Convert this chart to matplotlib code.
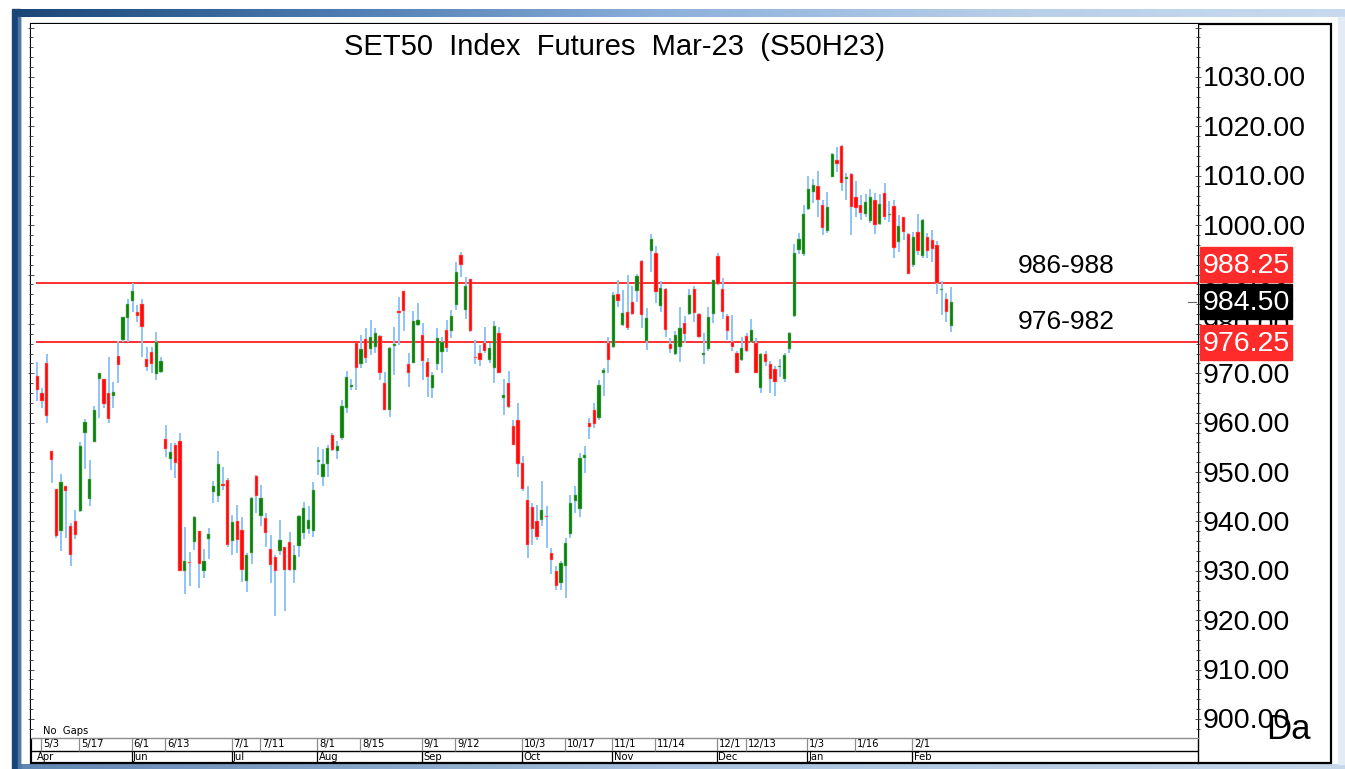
import matplotlib
matplotlib.use('Agg')
import matplotlib.pyplot as plt
import numpy as np
from matplotlib import font_manager as fm
from matplotlib.patches import Rectangle
from matplotlib.ticker import MultipleLocator
from matplotlib.colors import LinearSegmentedColormap

# ---------------- data ----------------
opens = [969.5, 966.0, 972.0, 954.2, 946.5, 938.0, 947.2, 939.1, 940.0, 942.1,
         957.9, 944.6, 956.0, 968.8, 968.9, 966.0, 965.4, 973.5, 976.8, 981.3,
         984.7, 982.5, 984.0, 972.8, 974.3, 969.9, 970.2, 956.7, 952.7, 955.5,
         956.2, 930.0, 931.8, 935.9, 938.0, 929.9, 936.5, 945.9, 945.2, 947.5,
         948.4, 936.0, 940.0, 938.3, 927.9, 933.6, 949.2, 941.1, 940.7, 934.5,
         932.9, 934.1, 934.9, 935.9, 930.1, 935.1, 937.6, 938.4, 938.0, 952.0,
         949.1, 951.6, 957.5, 954.3, 956.9, 962.9, 967.3, 976.1, 971.9, 976.9,
         974.9, 975.4, 977.6, 968.0, 962.5, 975.6, 982.6, 986.7, 971.9, 972.0,
         979.8, 977.8, 972.2, 967.0, 971.9, 974.4, 978.8, 978.6, 983.8, 994.0,
         982.8, 989.0, 973.4, 974.2, 976.1, 972.6, 971.0, 978.1, 965.0, 968.0,
         959.3, 960.6, 951.9, 944.4, 943.0, 940.0, 940.2, 941.1, 933.6, 930.0,
         927.5, 931.0, 937.5, 944.2, 942.5, 952.8, 960.0, 962.5, 960.9, 970.0,
         976.2, 975.4, 986.1, 979.8, 982.5, 984.5, 986.7, 992.8, 976.6, 994.8,
         994.4, 983.6, 987.0, 975.9, 973.9, 975.3, 980.1, 982.0, 987.0, 982.0,
         973.7, 974.9, 982.0, 993.8, 987.0, 981.6, 976.4, 974.1, 972.6, 977.6,
         976.4, 976.2, 967.0, 973.9, 971.9, 970.8, 971.2, 968.8, 974.9, 981.6,
         995.0, 994.2, 1003.2, 1006.8, 1007.9, 1004.1, 998.9, 1009.8, 1013.1, 1016.0,
         1009.3, 1010.4, 1005.6, 1004.1, 1002.3, 1000.9, 1005.1, 1000.2, 1006.5, 1002.0,
         1003.9, 996.5, 1001.6, 998.2, 992.0, 998.7, 993.8, 997.5, 997.0, 996.0,
         986.9, 985.0, 979.5]
highs = [972.2, 967.0, 973.9, 954.2, 946.5, 949.6, 947.2, 939.6, 942.3, 956.0,
         960.7, 952.5, 963.4, 970.1, 968.9, 973.3, 968.3, 976.6, 981.5, 985.1,
         988.2, 983.8, 985.0, 975.3, 975.3, 978.4, 973.3, 959.6, 955.8, 955.8,
         958.0, 938.8, 933.8, 941.1, 938.0, 934.4, 938.6, 948.1, 954.3, 951.1,
         948.8, 941.3, 943.4, 941.0, 933.6, 945.0, 949.4, 947.4, 941.8, 937.2,
         933.2, 940.2, 934.9, 937.8, 935.3, 941.3, 944.0, 943.2, 947.9, 955.0,
         954.6, 955.5, 957.9, 956.2, 964.6, 970.5, 968.8, 976.1, 977.8, 979.1,
         980.7, 979.1, 977.8, 970.3, 975.4, 979.3, 985.5, 986.7, 974.1, 982.7,
         984.3, 980.1, 973.0, 970.3, 979.1, 977.4, 980.8, 982.8, 992.6, 994.5,
         989.6, 989.0, 976.8, 975.7, 979.3, 976.1, 980.5, 979.3, 968.8, 970.5,
         960.6, 964.0, 953.3, 947.1, 943.7, 943.4, 948.1, 943.2, 934.6, 930.9,
         931.9, 936.6, 945.4, 947.1, 953.8, 955.2, 960.9, 963.9, 968.7, 971.0,
         977.3, 986.5, 988.9, 986.9, 990.0, 987.6, 990.1, 992.9, 983.2, 998.3,
         995.8, 988.6, 987.2, 977.1, 978.5, 983.4, 981.6, 987.0, 987.6, 982.2,
         978.2, 983.5, 988.9, 994.3, 989.4, 982.0, 981.8, 974.6, 977.3, 978.1,
         981.0, 977.1, 974.2, 974.6, 972.4, 971.4, 972.8, 974.2, 978.4, 996.2,
         998.4, 1004.1, 1010.0, 1009.3, 1011.0, 1005.0, 1006.8, 1014.7, 1015.8, 1016.2,
         1010.5, 1010.6, 1009.0, 1006.1, 1006.3, 1007.3, 1006.6, 1006.3, 1008.6, 1004.8,
         1005.0, 1002.1, 1001.6, 998.5, 998.7, 1002.3, 1001.2, 998.5, 999.0, 996.7,
         988.6, 986.3, 987.4]
lows = [964.3, 962.9, 960.0, 947.7, 936.6, 934.1, 936.6, 930.9, 936.4, 942.0,
        950.6, 943.2, 956.0, 960.9, 962.9, 959.9, 962.9, 968.0, 976.4, 976.4,
        982.5, 980.3, 973.3, 970.4, 970.0, 968.7, 970.0, 953.1, 950.5, 948.8,
        930.0, 925.3, 927.0, 934.2, 926.5, 928.5, 932.5, 943.7, 943.9, 946.3,
        934.9, 933.2, 933.6, 927.8, 925.8, 931.4, 941.8, 939.0, 934.9, 927.6,
        920.8, 933.2, 921.8, 929.9, 927.6, 932.8, 936.4, 937.4, 936.9, 949.4,
        947.2, 949.1, 954.2, 952.6, 956.5, 961.9, 966.6, 966.6, 971.0, 972.0,
        973.7, 974.1, 968.7, 962.5, 961.2, 969.7, 975.7, 978.6, 967.3, 972.0,
        979.5, 968.7, 965.3, 965.0, 970.7, 970.0, 974.4, 977.1, 982.8, 989.6,
        980.9, 978.4, 971.9, 971.4, 974.1, 972.0, 968.0, 970.1, 961.6, 962.9,
        955.5, 949.1, 946.1, 932.6, 935.3, 936.3, 939.1, 934.6, 929.4, 926.2,
        926.2, 924.5, 936.6, 941.7, 941.0, 949.8, 956.6, 958.9, 960.6, 965.4,
        970.1, 975.1, 983.5, 979.5, 978.8, 981.8, 984.5, 979.1, 974.7, 990.6,
        984.3, 982.5, 977.3, 974.1, 973.7, 972.2, 976.2, 981.8, 980.3, 977.1,
        971.9, 974.6, 980.1, 987.9, 980.9, 976.8, 974.6, 970.1, 972.4, 974.4,
        976.2, 970.1, 966.0, 971.4, 966.0, 965.4, 969.3, 968.3, 974.2, 981.5,
        994.2, 993.8, 1003.0, 1004.4, 1001.6, 998.0, 998.5, 1009.7, 1010.8, 1007.0,
        1005.1, 998.0, 1001.6, 1001.0, 1001.7, 1000.4, 998.2, 1000.0, 1001.1, 1000.7,
        993.3, 994.6, 997.0, 990.1, 991.6, 994.0, 993.3, 993.3, 992.6, 986.1,
        981.8, 980.3, 978.4]
closes = [966.6, 964.3, 961.4, 952.5, 937.0, 948.0, 946.1, 933.2, 937.3, 955.2,
          960.1, 948.6, 962.6, 970.0, 963.7, 960.8, 966.2, 971.7, 981.5, 984.0,
          986.7, 981.6, 979.3, 971.2, 971.9, 976.4, 972.4, 954.6, 954.0, 951.9,
          930.0, 932.0, 931.5, 941.0, 931.3, 931.9, 937.5, 947.2, 951.7, 947.1,
          935.3, 939.9, 936.3, 930.2, 933.3, 944.7, 945.1, 944.8, 937.6, 931.1,
          929.9, 936.3, 930.1, 930.1, 933.2, 941.2, 942.7, 940.2, 946.4, 952.4,
          951.7, 954.8, 954.5, 955.3, 963.4, 969.3, 967.5, 971.0, 974.9, 973.2,
          977.4, 978.2, 970.1, 962.6, 975.1, 975.8, 982.3, 982.6, 970.0, 980.6,
          980.8, 972.4, 969.3, 969.7, 977.1, 976.4, 975.1, 981.6, 990.6, 991.9,
          987.7, 978.6, 973.0, 972.6, 974.6, 975.1, 979.5, 970.1, 965.6, 963.1,
          955.5, 951.7, 946.5, 935.3, 938.4, 936.8, 942.3, 940.9, 932.1, 927.0,
          931.5, 935.7, 943.8, 945.4, 952.8, 953.5, 959.1, 959.8, 967.6, 970.7,
          972.7, 985.9, 984.7, 982.3, 979.1, 982.0, 989.7, 981.8, 981.3, 997.1,
          986.5, 987.2, 978.8, 974.9, 977.8, 979.1, 978.0, 985.9, 982.3, 977.4,
          974.2, 981.5, 988.8, 988.1, 982.5, 978.6, 975.3, 970.1, 975.1, 974.6,
          978.8, 970.1, 973.9, 972.2, 968.8, 968.3, 971.4, 973.7, 978.2, 994.3,
          997.1, 1002.3, 1007.3, 1008.1, 1005.0, 999.4, 1003.6, 1014.5, 1012.4, 1008.5,
          1009.7, 1003.6, 1003.4, 1002.4, 1004.6, 1005.8, 1000.0, 1004.3, 1001.6, 1002.2,
          995.3, 999.8, 998.7, 990.1, 997.6, 994.8, 1001.1, 994.8, 995.1, 988.2,
          986.9, 982.5, 984.5]

date_labels = ['5/3', '5/17', '6/1', '6/13', '7/1', '7/11', '8/1', '8/15', '9/1', '9/12',
               '10/3', '10/17', '11/1', '11/14', '12/1', '12/13', '1/3', '1/16', '2/1']
date_bar_idx = [1, 9, 20, 27, 41, 47, 59, 68, 81, 88, 102, 111, 121, 130, 143, 149, 162, 172, 184]
month_labels = ['Apr', 'Jun', 'Jul', 'Aug', 'Sep', 'Oct', 'Nov', 'Dec', 'Jan', 'Feb']
month_bar_idx = [0, 20, 41, 59, 81, 102, 121, 143, 162, 184]
price_ticks = [900, 910, 920, 930, 940, 950, 960, 970, 980, 990, 1000, 1010, 1020, 1030]
zone_levels = [988.25, 976.25]
zone_labels = ['986-988', '976-982']
last_price = 984.50
title = 'SET50  Index  Futures  Mar-23  (S50H23)'

# ---------------- fonts ----------------
def has_font(name):
    try:
        fm.findfont(fm.FontProperties(family=name), fallback_to_default=False)
        return True
    except Exception:
        return False

MAIN = 'Liberation Sans' if has_font('Liberation Sans') else 'DejaVu Sans'
small_props = dict(family=MAIN, fontsize=8.0)
if has_font('Liberation Sans Narrow'):
    small_props = dict(family='Liberation Sans Narrow', fontsize=9.0)
else:
    try:
        f = fm.findfont(fm.FontProperties(family='DejaVu Sans', stretch='condensed'),
                        fallback_to_default=False)
        if 'Condensed' in f:
            small_props = dict(family='DejaVu Sans', fontstretch='condensed', fontsize=8.0)
    except Exception:
        pass

# ---------------- layout (pixels) ----------------
W, H = 1345, 769
fig = plt.figure(figsize=(W / 100, H / 100), dpi=100)
fig.patch.set_facecolor('white')

def fx(px):
    return px / W

def fy(py):
    return 1 - py / H

PL, PR, PT, PB = 31, 1198, 24, 738   # candle panel
BOT = 763                            # bottom of date rows
X0, DX = 37.3, 4.76                  # first bar centre, bar spacing
Y77, PPU = 77, 642 / 130             # pixel of 1030, pixels per point
TXT_SHIFT = 2.5 / PPU                # visual centring of big digits

# background frame
bg = fig.add_axes([0, 0, 1, 1], zorder=-10)
bg.set_xlim(0, W)
bg.set_ylim(H, 0)
bg.axis('off')
cm_top = LinearSegmentedColormap.from_list('t', ['#1A4677', '#4F7DB3', '#8FB2DB', '#B7CEE9', '#C9DAEE'])
grad = np.linspace(0, 1, 512)[None, :]
bg.imshow(grad, cmap=cm_top, extent=(12, W, 17, 9), aspect='auto', zorder=1)
cm_bot = LinearSegmentedColormap.from_list('b', ['#5F86B3', '#A9C2DF', '#C6D7EB'])
bg.imshow(grad, cmap=cm_bot, extent=(12, W, H, 764), aspect='auto', zorder=1)
bg.add_patch(Rectangle((12, 9), 8, H - 9, color='#1A4677', zorder=2))
bg.add_patch(Rectangle((18, 17), 2, H - 17, color='#4E78A8', zorder=2))
bg.add_patch(Rectangle((1338, 17), 7, 747, color='#E3EBF4', zorder=1))
bg.add_patch(Rectangle((PL, PT), 1331 - PL, BOT - PT, fill=False, ec='black', lw=1.6, zorder=5))
bg.plot([PR, PR], [PT, BOT], color='black', lw=1.0, zorder=5)

# ---------------- candle panel ----------------
ax = fig.add_axes([fx(PL), fy(PB), fx(PR) - fx(PL), fy(PT) - fy(PB)])
ax.set_facecolor('white')
ax.set_xlim((PL - X0) / DX, (PR - X0) / DX)
ax.set_ylim(900 - (PB - 719) / PPU, 1030 + (Y77 - PT) / PPU)

o = np.array(opens); h = np.array(highs); l = np.array(lows); c = np.array(closes)
n = min(len(o), len(h), len(l), len(c))
o, h, l, c = o[:n], h[:n], l[:n], c[:n]
idx = np.arange(n)
up = c >= o
bot_b = np.minimum(o, c)
hgt = np.maximum(np.abs(c - o), 0.25)

ax.hlines(zone_levels, -0.2, (PR - X0) / DX, color='#FF1F1F', lw=1.3, zorder=1.5)
ax.vlines(idx, l, h, color='#8EC4F8', lw=1.4, zorder=2)
ax.bar(idx[up], hgt[up], bottom=bot_b[up], width=0.68, color='#0B800B',
       edgecolor='#7DBB7D', lw=0.35, zorder=3)
ax.bar(idx[~up], hgt[~up], bottom=bot_b[~up], width=0.68, color='#FF0A0A',
       edgecolor='#FF9090', lw=0.35, zorder=3)
# small last-price marker at the right edge
ax.plot([(1188 - X0) / DX, (1196 - X0) / DX], [last_price, last_price],
        color='#666666', lw=0.8, zorder=2, clip_on=False)

for s in ax.spines.values():
    s.set_visible(False)
ax.spines['bottom'].set_visible(True)
ax.spines['bottom'].set_color('#8C8C8C')
ax.spines['bottom'].set_linewidth(1.0)
ax.set_xticks([])
ax.yaxis.set_major_locator(MultipleLocator(10))
ax.yaxis.set_minor_locator(MultipleLocator(2))
ax.tick_params(axis='y', which='both', left=True, right=True, labelleft=False,
               labelright=False, direction='inout', color='#333333', width=0.6)
ax.tick_params(axis='y', which='major', length=5)
ax.tick_params(axis='y', which='minor', length=3)

# title and zone texts
fig.text(fx((PL + PR) / 2), fy(55), title, ha='center', va='baseline',
         fontsize=21, family=MAIN, color='black')
fig.text(fx(1018), fy(266), zone_labels[0], ha='left', va='center',
         fontsize=19, family=MAIN, color='black')
fig.text(fx(1018), fy(322), zone_labels[1], ha='left', va='center',
         fontsize=19, family=MAIN, color='black')
fig.text(fx(43), fy(731), 'No  Gaps', ha='left', va='center', color='black', **small_props)

# ---------------- date rows ----------------
dax = fig.add_axes([fx(PL), fy(BOT), fx(PR) - fx(PL), fy(PB) - fy(BOT)])
dax.set_xlim(ax.get_xlim())
dax.set_ylim(0, BOT - PB)
dax.axis('off')
mid = BOT - 750.5
dax.axhline(mid, color='black', lw=1.0)
for lab, i in zip(date_labels, date_bar_idx):
    dax.vlines(i - 0.2, mid, BOT - PB, color='#8C8C8C', lw=0.9)
    dax.text(i + 0.2, (mid + BOT - PB) / 2, lab, ha='left', va='center',
             color='black', **small_props)
for k, (lab, i) in enumerate(zip(month_labels, month_bar_idx)):
    if k > 0:
        dax.vlines(i - 0.2, 0, mid, color='black', lw=0.9)
    dax.text(i + 0.1 if k > 0 else i - 0.05, mid / 2, lab, ha='left', va='center',
             color='black', **small_props)

# ---------------- price panel ----------------
pax = fig.add_axes([fx(PR), fy(PB), fx(1331) - fx(PR), fy(PT) - fy(PB)])
pax.set_xlim(0, 1331 - PR)
pax.set_ylim(ax.get_ylim())
pax.axis('off')
for v in price_ticks:
    pax.text(5, v - TXT_SHIFT, f'{v:.2f}', ha='left', va='center', fontsize=20.5,
             family=MAIN, color='black', zorder=2, clip_on=False)

box_h = 35 / PPU
boxes = [
    (last_price - box_h / 2, last_price, 'black'),
    (zone_levels[1] - box_h / 2, zone_levels[1], '#FF2A2A'),
    (last_price + box_h / 2 + 0.4, zone_levels[0], '#FF2A2A'),
]
for y0, val, col in boxes:
    pax.add_patch(Rectangle((2, y0), 92, box_h, color=col, zorder=4))
    pax.text(5, y0 + box_h / 2 - TXT_SHIFT * 0.6, f'{val:.2f}', ha='left', va='center',
             fontsize=20.5, family=MAIN, color='white', zorder=5)

fig.text(fx(1266), fy(739), 'Da', ha='left', va='baseline', fontsize=25,
         family=MAIN, color='black')

fig.savefig('out.png', dpi=100, facecolor='white')
